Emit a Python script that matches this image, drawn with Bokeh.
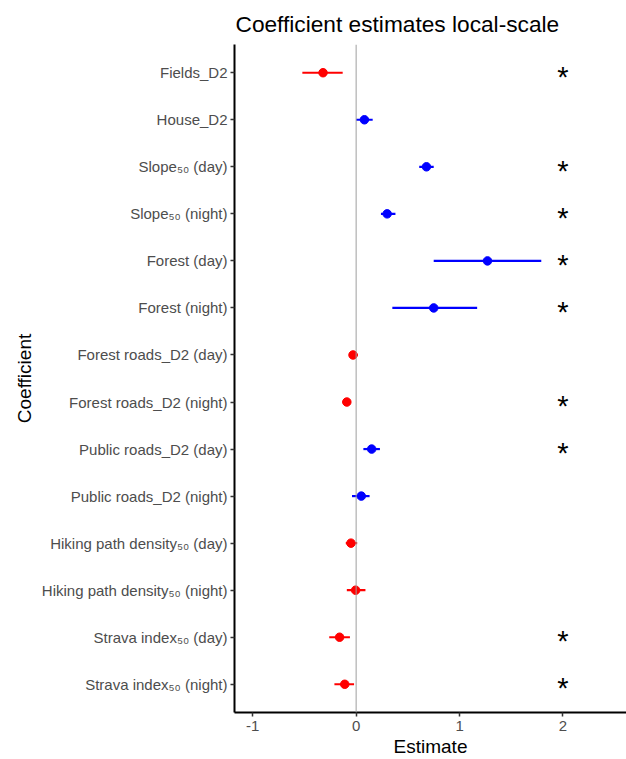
from bokeh.plotting import figure
from bokeh.models import Range1d, FixedTicker, Span, ColumnDataSource
from bokeh.core.properties import value
from bokeh.embed import file_html
from bokeh.resources import INLINE

labels = [
    "Fields_D2", "House_D2", "Slope\u2085\u2080 (day)", "Slope\u2085\u2080 (night)",
    "Forest (day)", "Forest (night)", "Forest roads_D2 (day)", "Forest roads_D2 (night)",
    "Public roads_D2 (day)", "Public roads_D2 (night)",
    "Hiking path density\u2085\u2080 (day)", "Hiking path density\u2085\u2080 (night)",
    "Strava index\u2085\u2080 (day)", "Strava index\u2085\u2080 (night)",
]
estimate = [-0.32, 0.08, 0.68, 0.30, 1.27, 0.75, -0.03, -0.09, 0.15, 0.05, -0.05, -0.005, -0.16, -0.11]
lower = [-0.52, 0.00, 0.61, 0.24, 0.75, 0.35, -0.065, -0.13, 0.07, -0.04, -0.10, -0.09, -0.26, -0.21]
upper = [-0.13, 0.16, 0.75, 0.38, 1.79, 1.17, 0.016, -0.05, 0.23, 0.13, 0.01, 0.09, -0.06, -0.02]
significant = [True, False, True, True, True, True, False, True, True, False, False, False, True, True]

STAR_X = 2.0
FONT = "Liberation Sans"

pos = list(range(1, len(labels) + 1))
colors = ["#FF0000" if e < 0 else "#0000FF" for e in estimate]
src = ColumnDataSource(dict(y=pos, est=estimate, lo=lower, hi=upper, color=colors))

p = figure(width=626, height=759, output_backend="svg", toolbar_location=None,
           x_range=Range1d(-1.176, 2.614), y_range=Range1d(len(labels) + 0.6, 0.4),
           min_border_left=234, min_border_right=0, min_border_top=0, min_border_bottom=46)

p.title.text = "Coefficient estimates local-scale"
p.title.text_font = FONT
p.title.text_font_size = "22.7px"
p.title.text_font_style = "normal"
p.title.text_color = "black"
p.title.align = "left"
p.title.offset = 1
p.title.standoff = 16

p.xgrid.visible = False
p.ygrid.visible = False
p.outline_line_color = None

p.add_layout(Span(location=0, dimension="height", line_color="#9e9e9e", line_width=1))

p.segment(x0="lo", x1="hi", y0="y", y1="y", line_color="color", line_width=2.2, source=src)
p.scatter(x="est", y="y", size=8.5, fill_color="color", line_color="color", source=src)

star_y = [pp for pp, s in zip(pos, significant) if s]
p.text(x=[STAR_X] * len(star_y), y=star_y, text=["*"] * len(star_y),
       text_font=value(FONT), text_font_size="29px", text_align="center",
       text_baseline="middle", y_offset=4, text_color="black")

for ax in (p.xaxis[0], p.yaxis[0]):
    ax.axis_line_color = "black"
    ax.axis_line_width = 2
    ax.major_tick_line_color = "#333333"
    ax.major_tick_line_width = 1.5
    ax.major_tick_out = 4
    ax.major_tick_in = 0
    ax.minor_tick_line_color = None
    ax.major_label_text_font = FONT
    ax.major_label_text_font_size = "15px"
    ax.major_label_text_color = "#4d4d4d"
    ax.axis_label_text_font = FONT
    ax.axis_label_text_font_size = "19px"
    ax.axis_label_text_font_style = "normal"
    ax.axis_label_text_color = "black"

p.xaxis.ticker = FixedTicker(ticks=[-1, 0, 1, 2])
p.xaxis.major_label_overrides = {-1: "-1", 0: "0", 1: "1", 2: "2"}
p.xaxis.axis_label = "Estimate"
p.xaxis.major_label_standoff = 4
p.xaxis.axis_label_standoff = 2

p.yaxis.ticker = FixedTicker(ticks=pos)
p.yaxis.major_label_overrides = {i: l for i, l in zip(pos, labels)}
p.yaxis.axis_label = "Coefficient"
p.yaxis.major_label_standoff = 3
p.yaxis.axis_label_standoff = 4

open("out.html", "w").write(file_html(p, INLINE))
